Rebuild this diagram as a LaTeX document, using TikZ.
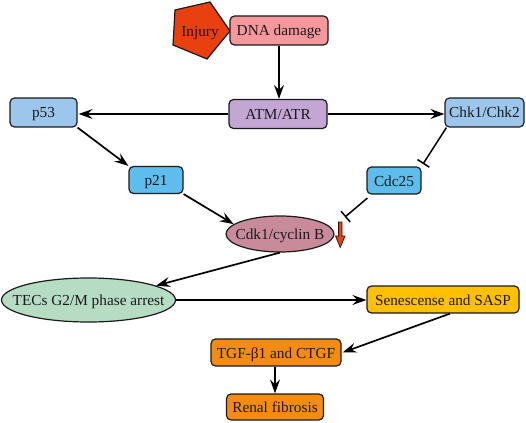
\documentclass[tikz,border=0pt]{standalone}
\usepackage{fontspec}
\setmainfont{Liberation Serif}
\usetikzlibrary{arrows.meta,calc,shapes.geometric}
\definecolor{cinjury}{HTML}{E8400E}
\definecolor{cdna}{HTML}{F4989C}
\definecolor{catm}{HTML}{C3A6D4}
\definecolor{cpf}{HTML}{9DC6EC}
\definecolor{cpt}{HTML}{5FBDEE}
\definecolor{ccdk}{HTML}{C98B9B}
\definecolor{ctec}{HTML}{B6DDC4}
\definecolor{csen}{HTML}{FFC000}
\definecolor{ctgf}{HTML}{F58B10}
\definecolor{ink}{HTML}{1A1A1A}
\tikzset{
  lab/.style={inner sep=0pt,font=\fontsize{15.3}{17}\selectfont,text=ink,text height=11pt,text depth=0pt},
  box/.style={lab,draw=ink,line width=1.2pt,rounded corners=4.5pt},
  oval/.style={lab,draw=ink,line width=1.2pt,ellipse},
  link/.style={draw=black,line width=1.7pt,-{Stealth[length=14pt,width=10pt,inset=5pt]}},
  block/.style={draw=black,line width=1.5pt,-{Bar[width=14pt,line width=1.5pt]}},
}
\newcommand{\bx}[7]{\node[box,fill=#6,minimum width=#4pt,minimum height=#5pt] (#1) at (#2pt,-#3pt) {#7};}
\begin{document}
\begin{tikzpicture}[x=1pt,y=1pt]
\useasboundingbox (0,-422) rectangle (526,0);
\filldraw[draw=ink,fill=cinjury,line width=1.2pt] (175,-10) -- (210,-2) -- (230,-31) -- (207,-59) -- (173,-45) -- cycle;
\node[lab] (injury) at (200,-31) {Injury};
\bx{dna}{279}{30.5}{98}{29}{cdna}{DNA damage}
\bx{atm}{278}{114}{98}{29}{catm}{ATM/ATR}
\bx{pf}{43.5}{112.5}{67}{29}{cpf}{p53}
\bx{pt}{156}{180}{54}{27}{cpt}{p21}
\bx{chk}{484.5}{112.5}{79}{29}{cpf}{Chk1/Chk2}
\bx{cdc}{394}{180.5}{54}{27}{cpt}{Cdc25}
\node[oval,fill=ccdk,minimum width=108pt,minimum height=36pt] (cdk) at (280,-234) {\makebox[0pt]{Cdk1/cyclin B}};
\node[oval,fill=ctec,minimum width=174pt,minimum height=44pt] (tec) at (88.5,-300) {\makebox[0pt]{TECs G2/M phase arrest}};
\bx{sen}{443}{299.5}{152}{27}{csen}{Senescense and SASP}
\bx{tgf}{276}{352.5}{130}{27}{ctgf}{TGF-β1 and CTGF}
\bx{ren}{275}{407}{97}{26}{ctgf}{Renal fibrosis}
\coordinate (inhA) at (423,-164);
\coordinate (inhB) at (345,-217);
\draw[link] (dna.south) -- (dna.south |- atm.north);
\draw[link] (atm.west) -- ($(pf.east)+(1,-1.5)$);
\draw[link] (atm.east) -- (atm.east -| chk.west);
\draw[link] (pf.south east) -- (pt.north west);
\draw[link] (pt.south east) -- (cdk.168);
\draw[block] ($(chk.south west)+(2,0)$) -- (inhA);
\draw[block] ($(cdc.south west)+(1,-3.5)$) -- (inhB);
\draw[link] (cdk.south) -- (tec.12);
\draw[link] (tec.east) -- (tec.east -| sen.west);
\draw[link] ($(sen.south)+(7,0)$) -- ($(tgf.east)+(1,0)$);
\draw[link] (tgf.south -| ren.north) -- (ren.north);
\filldraw[draw=ink,fill=cinjury,line width=.7pt] (338.5,-222) -- (342,-222) -- (342,-236) -- (345,-236) -- (340.2,-247.5) -- (335.5,-236) -- (338.5,-236) -- cycle;
\end{tikzpicture}
\end{document}
